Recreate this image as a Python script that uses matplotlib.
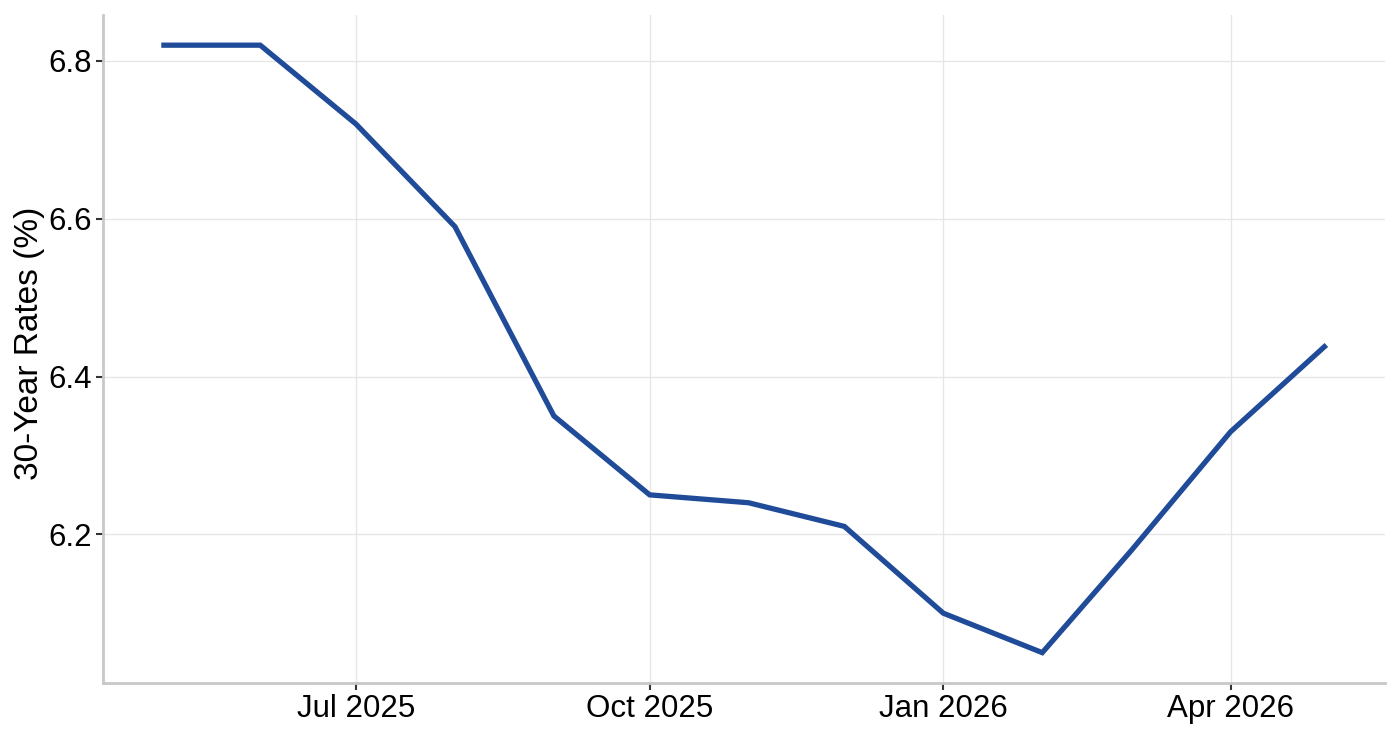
import matplotlib
matplotlib.use("Agg")
import matplotlib.pyplot as plt
import matplotlib.dates as mdates
import pandas as pd
import numpy as np

plt.rcParams['font.family'] = ['Liberation Sans', 'DejaVu Sans']

dates = ["2025-05-01", "2025-06-01", "2025-07-01", "2025-08-01", "2025-09-01",
         "2025-10-01", "2025-11-01", "2025-12-01", "2026-01-01", "2026-02-01",
         "2026-03-01", "2026-04-01", "2026-05-01"]
rates = [6.82, 6.82, 6.72, 6.59, 6.35, 6.25, 6.24, 6.21, 6.10, 6.05, 6.18, 6.33, 6.44]
xtick_dates = ["2025-07-01", "2025-10-01", "2026-01-01", "2026-04-01"]
xtick_labels = ["Jul 2025", "Oct 2025", "Jan 2026", "Apr 2026"]
ytick_vals = [6.2, 6.4, 6.6, 6.8]
ylabel = "30-Year Rates (%)"

x = pd.to_datetime(dates)
fig = plt.figure(figsize=(14, 7.4), dpi=100)
ax = fig.add_axes([0.0736, 0.077, 0.9154, 0.903])

ax.plot(x, rates, color="#1f4b99", linewidth=3.8, solid_capstyle="butt", solid_joinstyle="miter", zorder=3)

xn = mdates.date2num(x)
span = xn.max() - xn.min()
ax.set_xlim(xn.min() - 0.05 * span, xn.max() + 0.05 * span)
yr = max(rates) - min(rates)
ax.set_ylim(min(rates) - 0.05 * yr, max(rates) + 0.05 * yr)

ax.set_xticks(mdates.date2num(pd.to_datetime(xtick_dates)))
ax.set_xticklabels(xtick_labels)
ax.set_yticks(ytick_vals)
ax.set_yticklabels([f"{v:.1f}" for v in ytick_vals])

ax.grid(True, color="#e6e6e6", linewidth=1.0, zorder=0)
ax.set_axisbelow(True)
for s in ["top", "right"]:
    ax.spines[s].set_visible(False)
for s in ["left", "bottom"]:
    ax.spines[s].set_color("#c8c8c8")
    ax.spines[s].set_linewidth(2)
ax.tick_params(axis="both", length=5, width=1.5, color="#333333", labelsize=22.5, labelcolor="black", pad=3)
ax.set_ylabel(ylabel, fontsize=24)
ax.yaxis.set_label_coords(-0.0455, 0.509)

fig.savefig("out.png", dpi=100, facecolor="white")
